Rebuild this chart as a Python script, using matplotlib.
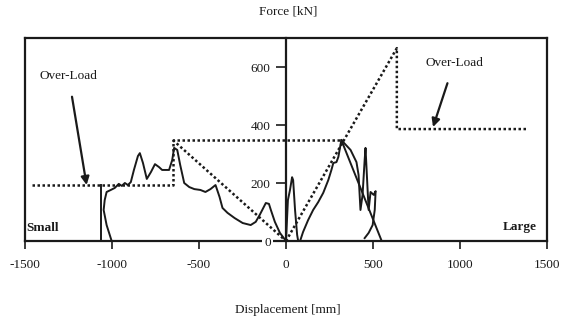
import matplotlib.pyplot as plt

# ---- data ----
# small test, measured curve
small_disp = [-1002, -1031, -1048, -1042, -1031, -1007, -984, -961, -944, -926, -909, -892,
              -874, -851, -840, -822, -800, -776, -753, -730, -712, -672, -654, -643, -625,
              -608, -585, -556, -527, -492, -463, -434, -405, -382, -365, -336, -295, -249,
              -203, -174, -151, -116, -98, -87, -64, -35, 0]
small_force = [0, 55, 107, 141, 169, 176, 183, 197, 190, 200, 193, 203,
               245, 293, 303, 269, 214, 238, 265, 255, 245, 245, 279, 321, 314,
               262, 200, 186, 179, 176, 169, 179, 193, 152, 114, 97, 79, 62,
               55, 66, 90, 131, 128, 107, 66, 28, 0]
small_wall_disp = [-1065, -1065]
small_wall_force = [0, 193]

# large test, measured curves
spike_disp = [0, 11, 23, 35, 41, 52, 64, 70]
spike_force = [0, 141, 176, 220, 210, 107, 21, 0]
large_disp = [81, 98, 127, 156, 185, 214, 243, 261, 272, 290, 301, 318,
              371, 405, 417, 428, 440, 452, 457, 469, 475, 486, 504, 515, 510, 498, 475, 452]
large_force = [0, 31, 72, 107, 134, 166, 210, 245, 269, 272, 290, 348,
               314, 272, 228, 107, 159, 279, 321, 176, 107, 169, 159, 172, 107, 55, 28, 10]
unload_disp = [318, 550]
unload_force = [348, 0]

# idealised envelopes (dotted)
env_small_disp = [-1460, -650, -650, 330]
env_small_force = [193, 193, 348, 348]
diag_small_disp = [-650, 0]
diag_small_force = [348, 0]
env_large_disp = [0, 637, 637, 1385]
env_large_force = [0, 665, 386, 386]

xticks = [-1500, -1000, -500, 0, 500, 1000, 1500]
yticks = [0, 200, 400, 600]

plt.rcParams['font.family'] = ['Liberation Serif', 'DejaVu Serif']
ink = '#1a1a1a'

fig = plt.figure(figsize=(5.62, 3.23), dpi=100)
ax = fig.add_axes([25 / 562, 1 - 241 / 323, 522 / 562, 203 / 323])

lw = 1.4
ax.plot(small_disp, small_force, color=ink, lw=lw)
ax.plot(small_wall_disp, small_wall_force, color=ink, lw=lw)
ax.plot(spike_disp, spike_force, color=ink, lw=lw)
ax.plot(large_disp, large_force, color=ink, lw=lw)
ax.plot(unload_disp, unload_force, color=ink, lw=lw)

dot = dict(color=ink, lw=1.8, linestyle=(0, (1, 1)))
ax.plot(env_small_disp, env_small_force, **dot)
ax.plot(diag_small_disp, diag_small_force, **dot)
ax.plot(env_large_disp, env_large_force, **dot)

ax.set_xlim(-1500, 1500)
ax.set_ylim(0, 700)
ax.set_xticks(xticks)
ax.set_xticklabels([str(v) for v in xticks])
ax.set_yticks(yticks)

# y axis through zero, box kept round the plot
ax.spines['left'].set_position(('data', 0))
ax.axvline(-1500, color=ink, lw=1.6, clip_on=False)
for s in ['bottom', 'top', 'right', 'left']:
    ax.spines[s].set_linewidth(1.6)
    ax.spines[s].set_color(ink)
ax.spines['bottom'].set_zorder(1)
ax.yaxis.set_zorder(3)

ax.tick_params(axis='x', direction='out', length=6, width=1.2, pad=7,
               labelsize=9.5, colors=ink)
ax.tick_params(axis='y', direction='out', length=7, width=1.2, pad=4,
               labelsize=9.5, colors=ink)
for lbl in ax.get_yticklabels():
    lbl.set_bbox(dict(facecolor='white', edgecolor='none', pad=1.5))

# annotations
ax.annotate('Over-Load', xy=(-1146, 193), xytext=(-1250, 560), ha='center',
            fontsize=9.5, color=ink,
            arrowprops=dict(arrowstyle='-|>', color=ink, lw=1.6, mutation_scale=12,
                            shrinkA=9, shrinkB=0))
ax.annotate('Over-Load', xy=(845, 393), xytext=(967, 605), ha='center',
            fontsize=9.5, color=ink,
            arrowprops=dict(arrowstyle='-|>', color=ink, lw=1.6, mutation_scale=12,
                            shrinkA=9, shrinkB=0))
ax.text(-1490, 45, 'Small', fontsize=9.5, fontweight='bold', color=ink,
        ha='left', va='center')
ax.text(1440, 48, 'Large', fontsize=9.5, fontweight='bold', color=ink,
        ha='right', va='center')

fig.text(288 / 562, 1 - 12 / 323, 'Force [kN]', ha='center', va='center',
         fontsize=9.5, color=ink)
fig.text(288 / 562, 1 - 310 / 323, 'Displacement [mm]', ha='center', va='center',
         fontsize=9.5, color=ink)

fig.savefig('out.png', dpi=100)
